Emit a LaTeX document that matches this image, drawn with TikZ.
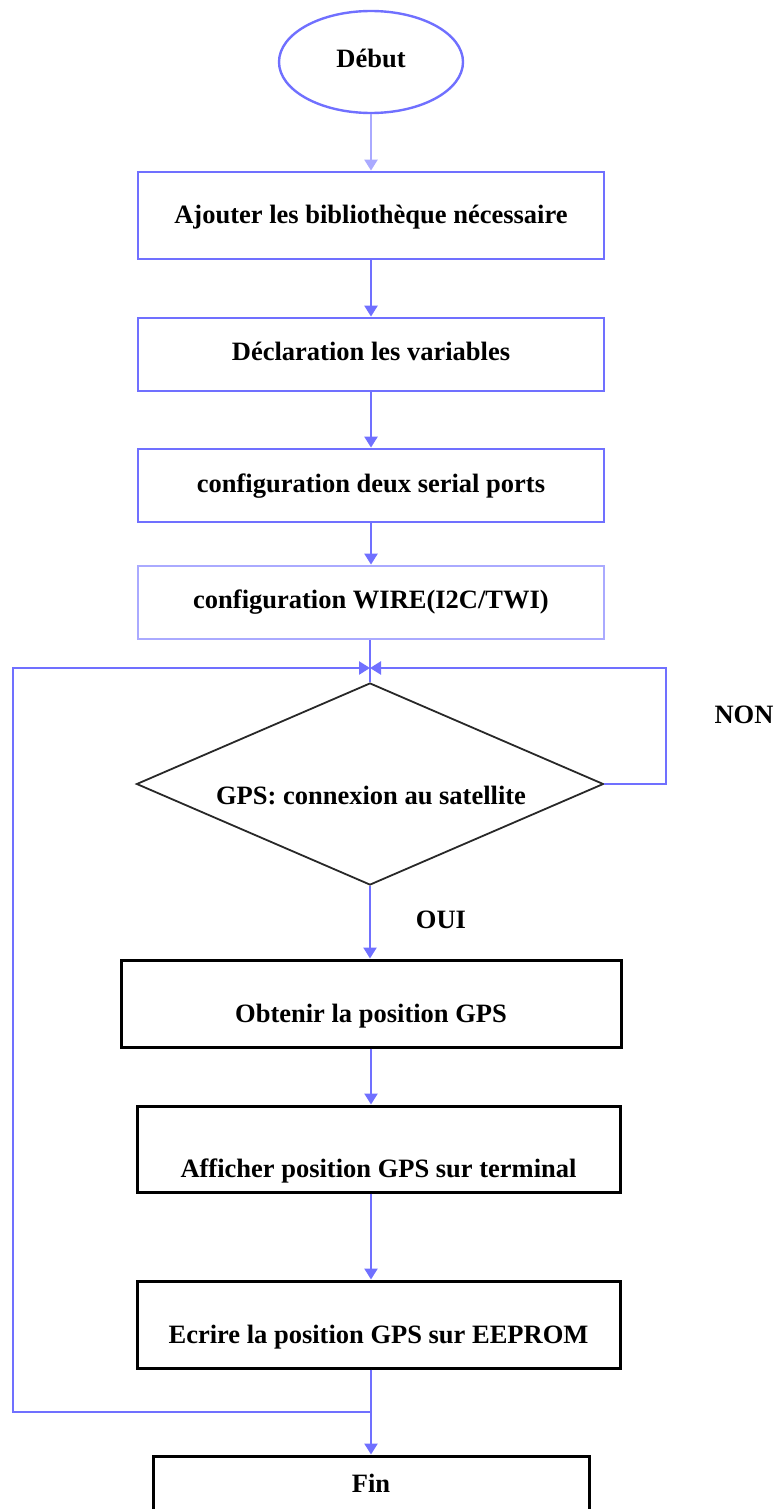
\documentclass[tikz,border=0pt]{standalone}
\usepackage{fontspec}
\setmainfont{Liberation Serif}
\usetikzlibrary{shapes.geometric,arrows.meta}
\definecolor{flowblue}{RGB}{112,112,255}
\definecolor{paleblue}{RGB}{170,170,255}
\definecolor{edgegray}{RGB}{40,40,40}
\begin{document}
\begin{tikzpicture}[x=1pt,y=-1pt,
  txt/.style={anchor=base,inner sep=0pt,font=\fontsize{26.5}{30}\selectfont\bfseries},
  bluebox/.style={draw=flowblue,line width=2.8pt,rectangle,inner sep=0pt},
  blackbox/.style={draw=black,line width=3pt,rectangle,inner sep=0pt},
  link/.style={draw=flowblue,line width=2.4pt},
  flow/.style={link,-{Triangle[length=11pt,width=13pt]}}]
\useasboundingbox (0,0) rectangle (776,1509);

% start
\node[ellipse,draw=flowblue,line width=2.4pt,minimum width=184pt,minimum height=102pt,inner sep=0pt] (deb) at (371,62) {};
\node[txt] (tdeb) at (371,68) {Début};

% set-up steps
\node[bluebox,minimum width=466pt,minimum height=87pt] (b1) at (371,215.5) {};
\node[txt] (t1) at (371,223) {Ajouter les bibliothèque nécessaire};
\node[bluebox,minimum width=466pt,minimum height=73pt] (b2) at (371,354.5) {};
\node[txt] (t2) at (371,360) {Déclaration les variables};
\node[bluebox,minimum width=466pt,minimum height=73pt] (b3) at (371,485.5) {};
\node[txt] (t3) at (371,492) {configuration deux serial ports};
\node[bluebox,draw=paleblue,minimum width=466pt,minimum height=73pt] (b4) at (371,602.5) {};
\node[txt] (t4) at (371,608) {configuration WIRE(I2C/TWI)};

% decision
\node[diamond,draw=edgegray,line width=1.8pt,minimum width=467pt,minimum height=202pt,inner sep=0pt] (dec) at (370,784) {};
\node[txt] (tdec) at (371,804) {GPS: connexion au satellite};
\node[txt] (non) at (744,723) {NON};
\node[txt] (oui) at (441,928) {OUI};

% loop body
\node[blackbox,minimum width=500pt,minimum height=87pt] (b5) at (371,1003.5) {};
\node[txt] (t5) at (371,1022) {Obtenir la position GPS};
\node[blackbox,minimum width=483pt,minimum height=86pt] (b6) at (378.5,1149) {};
\node[txt] (t6) at (378.5,1177) {Afficher position GPS sur terminal};
\node[blackbox,minimum width=483pt,minimum height=87pt] (b7) at (378.5,1324.5) {};
\node[txt] (t7) at (378.5,1343) {Ecrire la position GPS sur EEPROM};

% end
\node[blackbox,minimum width=436pt,minimum height=90pt] (fin) at (371,1501) {};
\node[txt] (tfin) at (371,1492) {Fin};

% routing points
\coordinate (jn) at (370,668);
\coordinate (merge) at (371,1412);
\coordinate (loopl) at (13,0);
\coordinate (loopr) at (666,0);

% connectors
\draw[flow,draw=paleblue] (deb.south) -- (b1.north);
\draw[flow] (b1) -- (b2);
\draw[flow] (b2) -- (b3);
\draw[flow] (b3) -- (b4);
\draw[link] (dec.north |- b4.south) -- (dec.north);
\draw[flow] (dec.east) -| (loopr |- jn) -- (jn);
\draw[flow] (dec.south) -- (dec.south |- b5.north);
\draw[flow] (b5.south) -- (b5.south |- b6.north);
\draw[flow] (b5.south |- b6.south) -- (b5.south |- b7.north);
\draw[flow] (merge |- b7.south) -- (merge |- fin.north);
\draw[flow] (merge) -| (loopl |- jn) -- (jn);
\end{tikzpicture}
\end{document}
